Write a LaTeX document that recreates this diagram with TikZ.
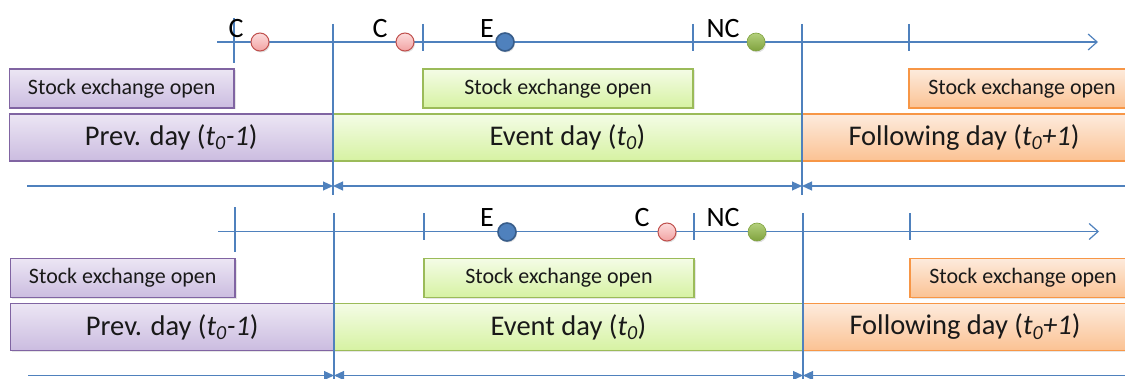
\documentclass[tikz,border=0pt]{standalone}
\usepackage{fontspec}
\setmainfont{Carlito}
\usetikzlibrary{arrows.meta,shadows}

\definecolor{lineblue}{HTML}{4F81BD}
\definecolor{purpleedge}{HTML}{8064A2}
\definecolor{purpletop}{HTML}{ECE6F4}
\definecolor{purplebot}{HTML}{CBBCE0}
\definecolor{greenedge}{HTML}{9BBB59}
\definecolor{greentop}{HTML}{F4FCE6}
\definecolor{greenbot}{HTML}{D6F2A2}
\definecolor{orangeedge}{HTML}{F79646}
\definecolor{orangetop}{HTML}{FDEBDD}
\definecolor{orangebot}{HTML}{FBC293}
\definecolor{redtop}{HTML}{FCDCDC}
\definecolor{redbot}{HTML}{F2A2A2}
\definecolor{rededge}{HTML}{C0504D}
\definecolor{blueedge}{HTML}{385D8A}
\definecolor{greendottop}{HTML}{B4D07C}
\definecolor{greendotbot}{HTML}{7FA23E}

\tikzset{
  tline/.style={lineblue, line width=1.2pt},
  boxbase/.style={draw, line width=1.2pt, inner sep=0pt, text=black!90,
    drop shadow={shadow xshift=1.5pt, shadow yshift=-1.5pt, opacity=0.2}},
  purplebox/.style={boxbase, draw=purpleedge, top color=purpletop, bottom color=purplebot},
  greenbox/.style={boxbase, draw=greenedge, top color=greentop, bottom color=greenbot},
  orangebox/.style={boxbase, draw=orangeedge, top color=orangetop, bottom color=orangebot},
  openbox/.style={minimum height=39pt, font=\fontsize{22}{24}\selectfont},
  daybox/.style={minimum height=47pt, font=\fontsize{28.5}{32}\selectfont},
  evlabel/.style={anchor=base, inner sep=0pt, font=\fontsize{28}{32}\selectfont},
  dotbase/.style={circle, minimum size=18pt, inner sep=0pt,
    drop shadow={shadow xshift=1pt, shadow yshift=-1.5pt, opacity=0.25}},
  cdot/.style={dotbase, draw=rededge, line width=1pt, top color=redtop, bottom color=redbot},
  edot/.style={dotbase, draw=blueedge, line width=1.6pt, fill=lineblue},
  ncdot/.style={dotbase, draw=greendotbot, line width=0.6pt, top color=greendottop, bottom color=greendotbot},
  dimtip/.tip={Triangle[length=10pt,width=9pt]},
  axistip/.tip={Straight Barb[length=9pt,width=16pt,line width=1.2pt]}
}

% one day panel: opening boxes, day boxes, time axis, ticks and day spans
\newcommand\daypanel[2]{%
\begin{scope}[shift={#2}]
  \node[purplebox,openbox,minimum width=224.5pt] (po#1) at (121.75,88.5) {Stock exchange open};
  \node[greenbox,openbox,minimum width=270pt]    (go#1) at (558,88.5)    {Stock exchange open};
  \node[orangebox,openbox,minimum width=226pt]   (oo#1) at (1022,88.5)   {Stock exchange open};
  \node[purplebox,daybox,minimum width=323.5pt] (pd#1) at (171.25,137.5) {Prev. day (\textit{t\textsubscript{0}-1})};
  \node[greenbox,daybox,minimum width=469pt]    (gd#1) at (567.5,137.5)  {Event day (\textit{t\textsubscript{0}})};
  \node[orangebox,daybox,minimum width=324pt]   (od#1) at (964,137.5)    {Following day (\textit{t\textsubscript{0}+1})};
  % time axis
  \coordinate (as#1) at (217,42);
  \coordinate (ae#1) at (1098,42);
  \draw[tline,-axistip] (as#1) -- (ae#1);
  % ticks
  \coordinate (k1a#1) at (234,18);  \coordinate (k1b#1) at (234,63);
  \coordinate (k2a#1) at (423,24);  \coordinate (k2b#1) at (423,51);
  \coordinate (k3a#1) at (693,24);  \coordinate (k3b#1) at (693,51);
  \coordinate (k4a#1) at (909,24);  \coordinate (k4b#1) at (909,51);
  \draw[tline] (k1a#1) -- (k1b#1);
  \draw[tline] (k2a#1) -- (k2b#1);
  \draw[tline] (k3a#1) -- (k3b#1);
  \draw[tline] (k4a#1) -- (k4b#1);
  % day borders
  \coordinate (b1a#1) at (333,24);  \coordinate (b1b#1) at (333,195);
  \coordinate (b2a#1) at (802,24);  \coordinate (b2b#1) at (802,195);
  \draw[tline] (b1a#1) -- (b1b#1);
  \draw[tline] (b2a#1) -- (b2b#1);
  % day spans
  \coordinate (dl#1) at (27,186);
  \coordinate (dm#1) at (333,186);
  \coordinate (dn#1) at (802,186);
  \coordinate (dr#1) at (1140,186);
  \draw[tline,-dimtip] (dl#1) -- (dm#1);
  \draw[tline,dimtip-dimtip] (dm#1) -- (dn#1);
  \draw[tline,dimtip-] (dn#1) -- (dr#1);
\end{scope}}

\begin{document}
\begin{tikzpicture}[x=1pt,y=-1pt]
\useasboundingbox (0,0) rectangle (1125,379);
\clip (0,0) rectangle (1125,379);

\daypanel{t}{(0,0)}
\daypanel{b}{(1,189.5)}

% events, upper panel
\node[cdot]  (c1t) at (260,42) {};
\node[cdot]  (c2t) at (405,42) {};
\node[edot]  (et)  at (505,42) {};
\node[ncdot] (nct) at (756,42) {};
\node[evlabel] (lc1t) at (236,38) {C};
\node[evlabel] (lc2t) at (380,38) {C};
\node[evlabel] (let)  at (487,38) {E};
\node[evlabel] (lnct) at (723,38) {NC};

% events, lower panel
\node[edot]  (eb)  at (507,232) {};
\node[cdot]  (cb)  at (667,232) {};
\node[ncdot] (ncb) at (757,232) {};
\node[evlabel] (leb)  at (487,227) {E};
\node[evlabel] (lcb)  at (642,227) {C};
\node[evlabel] (lncb) at (723,227) {NC};
\end{tikzpicture}
\end{document}
